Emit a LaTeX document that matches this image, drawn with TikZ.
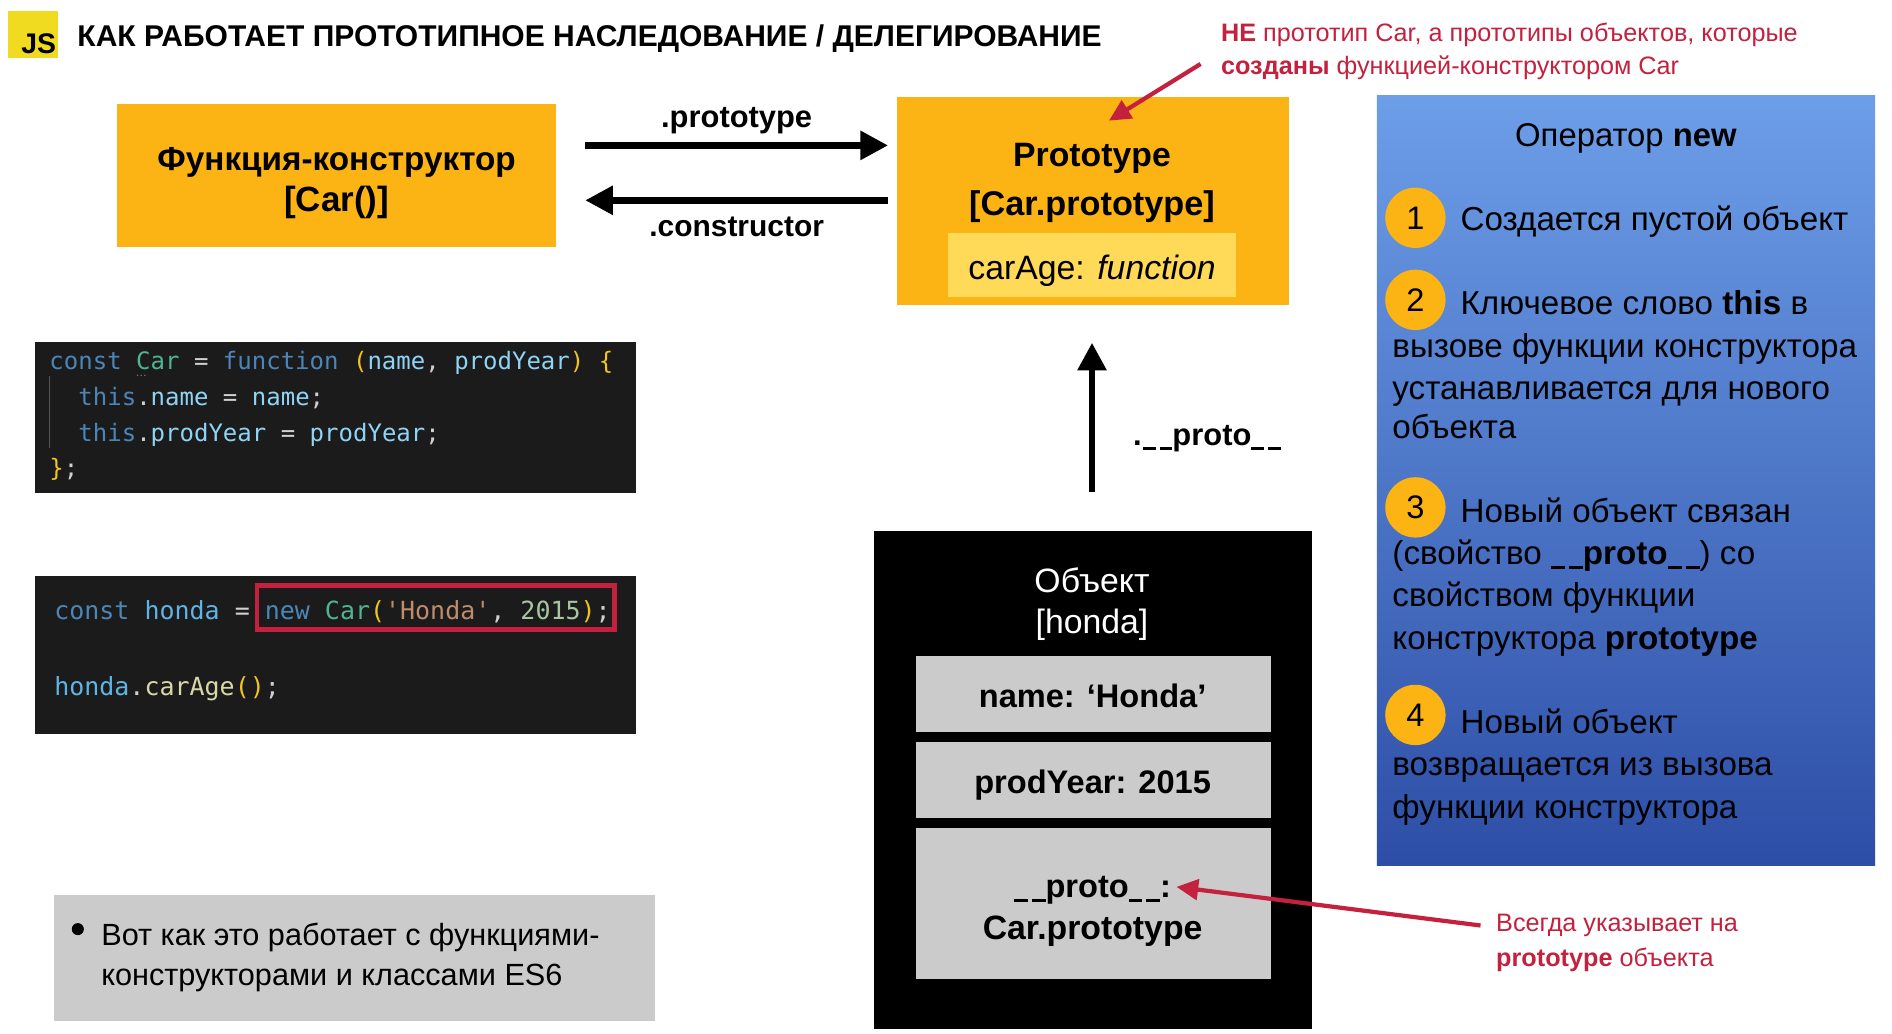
\documentclass[tikz,border=0pt]{standalone}
\usepackage{fontspec}
\setmainfont{Liberation Sans}
\newfontfamily\codefont{DejaVu Sans Mono}
\usetikzlibrary{arrows.meta}
\newcommand{\fs}[1]{\fontsize{#1}{#1}\selectfont}
\newcommand{\uu}{\rule[-.13em]{.42em}{.09em}\kern.12em\rule[-.13em]{.42em}{.09em}}
\definecolor{amber}{HTML}{FCB414}
\definecolor{amberlight}{HTML}{FFD958}
\definecolor{jsyellow}{HTML}{F0DB20}
\definecolor{panelgray}{HTML}{CBCBCB}
\definecolor{crimson}{HTML}{C4213F}
\definecolor{codebg}{HTML}{1B1B1B}
\definecolor{ckey}{HTML}{4C86B9}
\definecolor{ctype}{HTML}{4DB592}
\definecolor{cvar}{HTML}{8FD3F5}
\definecolor{cvar2}{HTML}{5FB4E6}
\definecolor{cpun}{HTML}{F2C41E}
\definecolor{cstr}{HTML}{C08A6C}
\definecolor{cnum}{HTML}{A9C6A0}
\definecolor{cfun}{HTML}{D8D8A6}
\definecolor{cop}{HTML}{D0D0D0}
\definecolor{bluetop}{HTML}{6D9EE8}
\definecolor{bluebot}{HTML}{2D4EA6}
\tikzset{
  x=1pt,y=-1pt,
  solidbox/.style={rectangle,inner sep=0pt,outer sep=0pt,draw=none},
  label26/.style={inner sep=0pt,outer sep=0pt,anchor=base,font=\fs{28}},
  left26/.style={inner sep=0pt,outer sep=0pt,anchor=base west,font=\fs{27.5}},
  redtext/.style={inner sep=0pt,outer sep=0pt,anchor=base west,font=\fs{20.9},text=crimson},
  codetext/.style={inner sep=0pt,outer sep=0pt,anchor=base west,text=cop},
  linktext/.style={inner sep=0pt,outer sep=0pt,anchor=base,font=\fs{25.6}\bfseries},
  blackarrow/.style={line width=5.5pt,draw=black,-{Triangle[length=23pt,width=23pt]}},
  redarrow/.style={line width=3.5pt,draw=crimson,-{Triangle[length=18pt,width=17pt]}},
  stepdot/.style={circle,fill=amber,minimum size=50pt,inner sep=0pt,font=\fs{27}},
}
\newcommand{\K}[1]{\textcolor{ckey}{#1}}
\newcommand{\T}[1]{\textcolor{ctype}{#1}}
\newcommand{\V}[1]{\textcolor{cvar}{#1}}
\newcommand{\W}[1]{\textcolor{cvar2}{#1}}
\newcommand{\Y}[1]{\textcolor{cpun}{#1}}
\begin{document}
\begin{tikzpicture}
\useasboundingbox (0,0) rectangle (1568,856.9);
\fill[white] (0,0) rectangle (1568,856.9);

% header
\node[solidbox,fill=jsyellow,minimum width=41pt,minimum height=39pt] (logo) at (27.5,28.5) {};
\node[inner sep=0pt,anchor=base,font=\fs{23.5}\bfseries] (logotext) at (32,44.5) {JS};
\node[inner sep=0pt,anchor=base west,font=\fs{24.87}\bfseries] (title) at (64,38.8) {КАК РАБОТАЕТ ПРОТОТИПНОЕ НАСЛЕДОВАНИЕ / ДЕЛЕГИРОВАНИЕ};
\node[redtext] (note1a) at (1012,34) {\textbf{НЕ} прототип Car, а прототипы объектов, которые};
\node[redtext] (note1b) at (1012,62) {\textbf{созданы} функцией-конструктором Car};

% constructor box
\node[solidbox,fill=amber,minimum width=364pt,minimum height=119pt] (ctor) at (279,145.5) {};
\node[label26,font=\fs{27.6}\bfseries] (ctortext1) at (279,141) {Функция-конструктор};
\node[label26,font=\fs{29}\bfseries] (ctortext2) at (279,175.5) {[Car()]};

% prototype box
\node[solidbox,fill=amber,minimum width=325pt,minimum height=173pt] (proto) at (905.5,166.5) {};
\node[label26,font=\fs{28}\bfseries] (prototext1) at (905,138) {Prototype};
\node[label26,font=\fs{28.4}\bfseries] (prototext2) at (905,178.5) {[Car.prototype]};
\node[solidbox,fill=amberlight,minimum width=238pt,minimum height=53pt] (carage) at (905,219.5) {};
\node[label26] (caragetext) at (905,232) {carAge: \textit{function}};

% links between boxes
\coordinate (protoFrom) at (485,120.5);
\coordinate (protoTo) at (736,120.5);
\coordinate (ctorFrom) at (736,166);
\coordinate (ctorTo) at (485,166);
\draw[blackarrow] (protoFrom) -- (protoTo);
\draw[blackarrow] (ctorFrom) -- (ctorTo);
\node[linktext] (lblproto) at (610.5,106) {.prototype};
\node[linktext,font=\fs{24.8}\bfseries] (lblctor) at (610.5,196) {.constructor};

% note arrow to prototype
\coordinate (note1tail) at (995,53);
\coordinate (note1head) at (919,100);
\draw[redarrow] (note1tail) -- (note1head);

% code 1
\node[solidbox,fill=codebg,minimum width=498pt,minimum height=125pt] (code1) at (278,346) {};
\draw[white!25!codebg,line width=.6pt] (41,312) -- (41,371);
\fill[gray] (114,311) circle (.6pt) (117,311) circle (.6pt) (120,311) circle (.6pt);
\begin{scope}[every node/.style={codetext,font=\fs{19.9}\codefont}]
\node (c1a) at (41,306) {\K{const} \T{Car} = \K{function} \Y{(}\V{name}, \V{prodYear}\Y{)} \Y{\{}};
\node (c1b) at (65,336) {\K{this}.\V{name} = \V{name};};
\node (c1c) at (65,365.5) {\K{this}.\V{prodYear} = \V{prodYear};};
\node (c1d) at (41,395) {\Y{\}};};
\end{scope}

% code 2
\node[solidbox,fill=codebg,minimum width=498pt,minimum height=131pt] (code2) at (278,542.5) {};
\begin{scope}[every node/.style={codetext,font=\fs{20.7}\codefont}]
\node (c2a) at (45,513.5) {\K{const} \W{honda} = \K{new} \T{Car}\Y{(}\textcolor{cstr}{'Honda'}, \textcolor{cnum}{2015}\Y{)};};
\node (c2b) at (45,576) {\W{honda}.\textcolor{cfun}{carAge}\Y{()};};
\end{scope}
\node[rectangle,draw=crimson,line width=4pt,minimum width=296pt,minimum height=36pt,inner sep=0pt] (newmark) at (361,503.5) {};

% grey note
\node[solidbox,fill=panelgray,minimum width=498pt,minimum height=104pt] (graynote) at (294,794) {};
\node[circle,fill=black,minimum size=10pt,inner sep=0pt] (bullet) at (64.5,770) {};
\node[left26,font=\fs{25.4}] (graya) at (84,783.5) {Вот как это работает с функциями-};
\node[left26,font=\fs{25.4}] (grayb) at (84,816.5) {конструкторами и классами ES6};

% object box
\node[solidbox,fill=black,minimum width=363pt,minimum height=413pt] (object) at (905.5,646.5) {};
\node[label26,text=white] (objtext1) at (905,491) {Объект};
\node[label26,text=white] (objtext2) at (905,525) {[honda]};
\node[solidbox,fill=panelgray,minimum width=294pt,minimum height=63pt] (fname) at (906,575.5) {};
\node[solidbox,fill=panelgray,minimum width=294pt,minimum height=63pt] (fyear) at (906,646.5) {};
\node[label26,font=\fs{27}\bfseries] (fnametext) at (905.5,586) {name: ‘Honda’};
\node[label26,font=\fs{27}\bfseries] (fyeartext) at (905.5,658) {prodYear: 2015};
\node[solidbox,fill=panelgray,minimum width=294pt,minimum height=125pt] (fproto) at (906,748.5) {};
\node[label26,font=\fs{27}\bfseries] (fprototext1) at (905.5,744) {\uu proto\uu :};
\node[label26,font=\fs{28}\bfseries] (fprototext2) at (905.5,779) {Car.prototype};

% __proto__ link
\coordinate (upFrom) at (905,408);
\coordinate (upTo) at (905,284);
\draw[blackarrow] (upFrom) -- (upTo);
\node[linktext,anchor=base west] (lblunder) at (939,369.5) {.\kern1pt\uu proto\uu};

% note arrow to __proto__
\coordinate (note2tail) at (1227,767);
\coordinate (note2head) at (975,735);
\draw[redarrow] (note2tail) -- (note2head);
\node[redtext] (note2a) at (1240,772) {Всегда указывает на};
\node[redtext] (note2b) at (1240,801) {\textbf{prototype} объекта};

% blue panel
\node[solidbox,top color=bluetop,bottom color=bluebot,minimum width=413pt,minimum height=638pt] (newpanel) at (1347.5,398) {};
\node[label26,font=\fs{27.2}] (newtitle) at (1347.5,121) {Оператор \textbf{new}};
\node[stepdot] (s1) at (1173,180.5) {1};
\node[stepdot] (s2) at (1173,248.5) {2};
\node[stepdot] (s3) at (1173,420.5) {3};
\node[stepdot] (s4) at (1173,592.5) {4};
\node[left26] (t1) at (1210.5,191) {Создается пустой объект};
\node[left26] (t2a) at (1210.5,261) {Ключевое слово \textbf{this} в};
\node[left26] (t2b) at (1154,296) {вызове функции конструктора};
\node[left26] (t2c) at (1154,331) {устанавливается для нового};
\node[left26] (t2d) at (1154,363) {объекта};
\node[left26] (t3a) at (1210.5,433) {Новый объект связан};
\node[left26] (t3b) at (1154,468) {(свойство \textbf{\uu proto\uu}) со};
\node[left26] (t3c) at (1154,503) {свойством функции};
\node[left26] (t3d) at (1154,538) {конструктора \textbf{prototype}};
\node[left26] (t4a) at (1210.5,608) {Новый объект};
\node[left26] (t4b) at (1154,643) {возвращается из вызова};
\node[left26] (t4c) at (1154,678) {функции конструктора};
\end{tikzpicture}
\end{document}
